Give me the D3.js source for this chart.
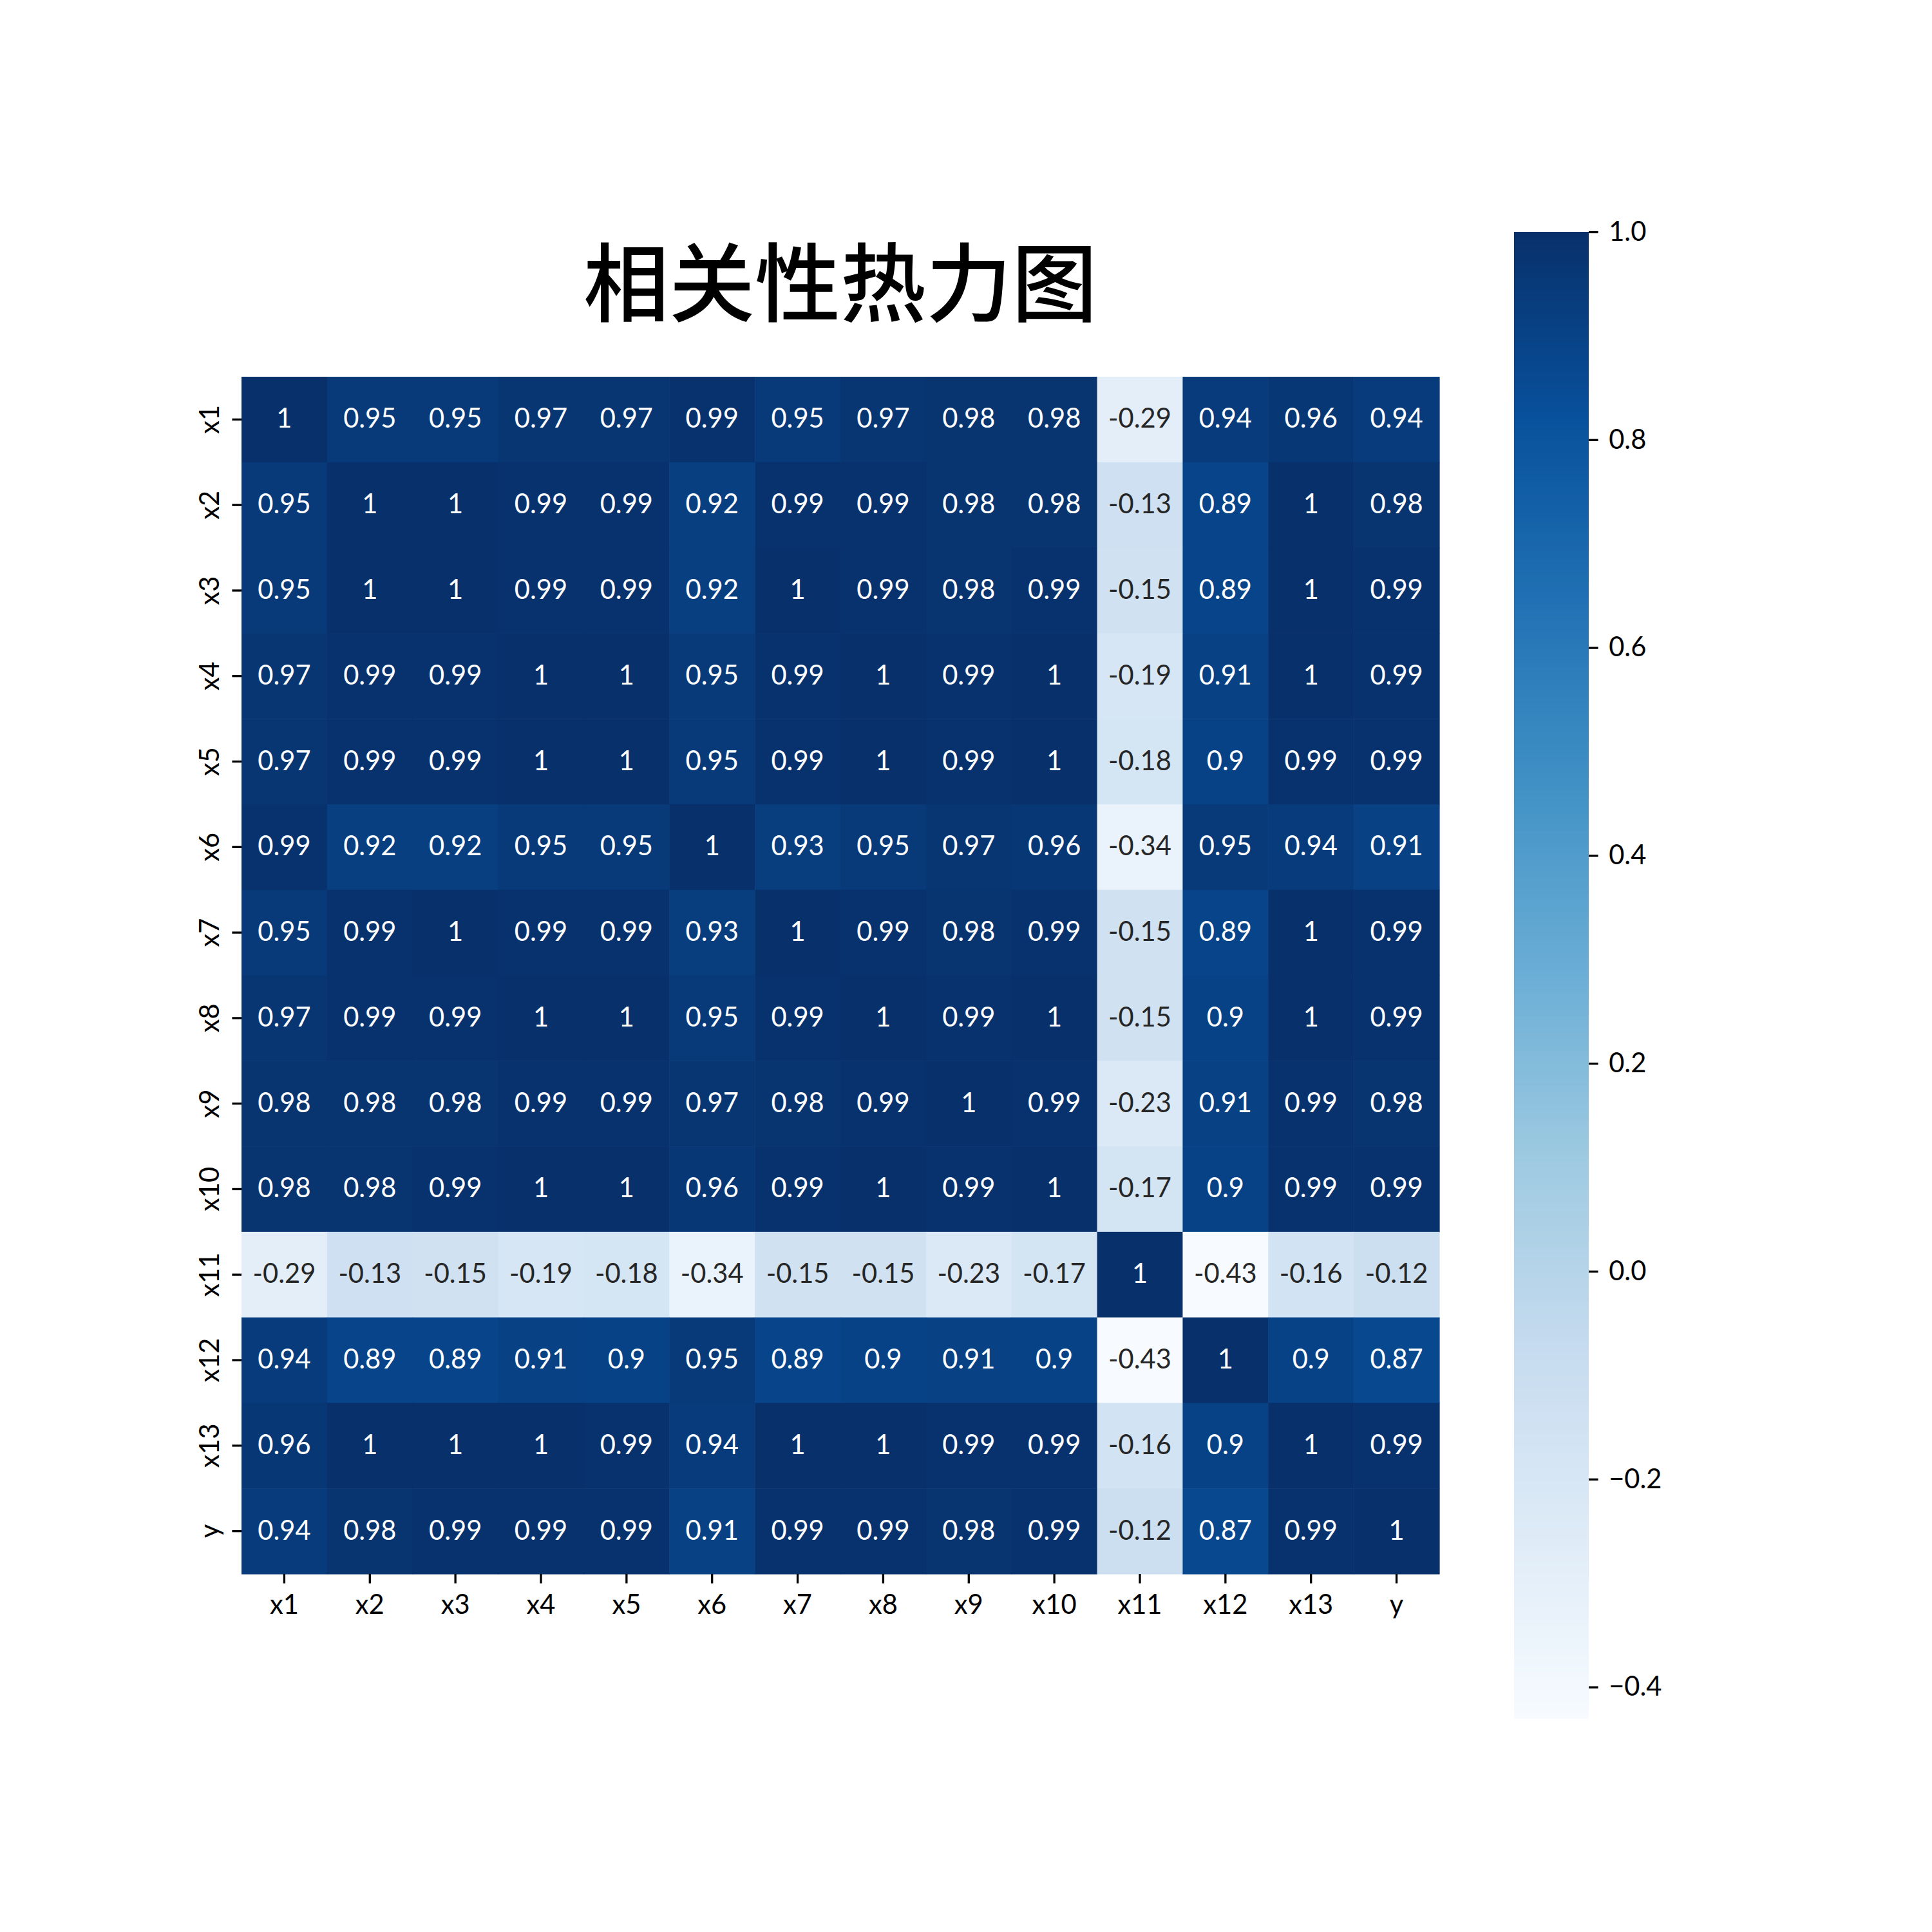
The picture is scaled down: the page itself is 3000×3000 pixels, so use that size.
<!DOCTYPE html>
<html>
<head>
<meta charset="utf-8">
<script src="https://cdn.jsdelivr.net/npm/d3@7"></script>
<style>
  html, body { margin: 0; padding: 0; background: #fff; }
</style>
</head>
<body>
<svg id="chart" width="3000" height="3000"></svg>
<script>
// ---- data ----
const labels = ["x1","x2","x3","x4","x5","x6","x7","x8","x9","x10","x11","x12","x13","y"];
const rowX1  = [1, 0.95, 0.95, 0.97, 0.97, 0.99, 0.95, 0.97, 0.98, 0.98, -0.29, 0.94, 0.96, 0.94];
const rowX2  = [0.95, 1, 1, 0.99, 0.99, 0.92, 0.99, 0.99, 0.98, 0.98, -0.13, 0.89, 1, 0.98];
const rowX3  = [0.95, 1, 1, 0.99, 0.99, 0.92, 1, 0.99, 0.98, 0.99, -0.15, 0.89, 1, 0.99];
const rowX4  = [0.97, 0.99, 0.99, 1, 1, 0.95, 0.99, 1, 0.99, 1, -0.19, 0.91, 1, 0.99];
const rowX5  = [0.97, 0.99, 0.99, 1, 1, 0.95, 0.99, 1, 0.99, 1, -0.18, 0.9, 0.99, 0.99];
const rowX6  = [0.99, 0.92, 0.92, 0.95, 0.95, 1, 0.93, 0.95, 0.97, 0.96, -0.34, 0.95, 0.94, 0.91];
const rowX7  = [0.95, 0.99, 1, 0.99, 0.99, 0.93, 1, 0.99, 0.98, 0.99, -0.15, 0.89, 1, 0.99];
const rowX8  = [0.97, 0.99, 0.99, 1, 1, 0.95, 0.99, 1, 0.99, 1, -0.15, 0.9, 1, 0.99];
const rowX9  = [0.98, 0.98, 0.98, 0.99, 0.99, 0.97, 0.98, 0.99, 1, 0.99, -0.23, 0.91, 0.99, 0.98];
const rowX10 = [0.98, 0.98, 0.99, 1, 1, 0.96, 0.99, 1, 0.99, 1, -0.17, 0.9, 0.99, 0.99];
const rowX11 = [-0.29, -0.13, -0.15, -0.19, -0.18, -0.34, -0.15, -0.15, -0.23, -0.17, 1, -0.43, -0.16, -0.12];
const rowX12 = [0.94, 0.89, 0.89, 0.91, 0.9, 0.95, 0.89, 0.9, 0.91, 0.9, -0.43, 1, 0.9, 0.87];
const rowX13 = [0.96, 1, 1, 1, 0.99, 0.94, 1, 1, 0.99, 0.99, -0.16, 0.9, 1, 0.99];
const rowY   = [0.94, 0.98, 0.99, 0.99, 0.99, 0.91, 0.99, 0.99, 0.98, 0.99, -0.12, 0.87, 0.99, 1];
const matrix = [rowX1,rowX2,rowX3,rowX4,rowX5,rowX6,rowX7,rowX8,rowX9,rowX10,rowX11,rowX12,rowX13,rowY];
const colorbarTicks = [1.0, 0.8, 0.6, 0.4, 0.2, 0.0, -0.2, -0.4];
const title = "相关性热力图";

// ---- layout ----
const svg = d3.select("#chart");
svg.append("rect").attr("width", 3000).attr("height", 3000).attr("fill", "#fff");

const hm = { left: 375, right: 2235, top: 585, bottom: 2444 };
const cb = { left: 2351, right: 2467, top: 360, bottom: 2668 };
const tickLen = 14.6, tickW = 3.3, pad = 14.6;
const fontFamily = "Lato, 'Open Sans', 'DejaVu Sans', sans-serif";
const fs = 41.67;

const cells = [];
matrix.forEach((row, i) => row.forEach((v, j) => cells.push({ r: labels[i], c: labels[j], v })));

const vmin = d3.min(cells, d => d.v), vmax = d3.max(cells, d => d.v);

// matplotlib "Blues"
const bluesStops = ["#f7fbff","#deebf7","#c6dbef","#9ecae1","#6baed6","#4292c6","#2171b5","#08519c","#08306b"];
const tScale = d3.scaleLinear().domain([vmin, vmax]).range([0, 1]).clamp(true);
const blues = d3.scaleLinear().domain(d3.range(9).map(i => i / 8)).range(bluesStops).interpolate(d3.interpolateRgb);
const color = v => blues(tScale(v));

function luminance(c) {
  const rgb = d3.rgb(c);
  const lin = x => { x /= 255; return x <= 0.03928 ? x / 12.92 : Math.pow((x + 0.055) / 1.055, 2.4); };
  return 0.2126 * lin(rgb.r) + 0.7152 * lin(rgb.g) + 0.0722 * lin(rgb.b);
}

const x = d3.scaleBand().domain(labels).range([hm.left, hm.right]).padding(0);
const y = d3.scaleBand().domain(labels).range([hm.top, hm.bottom]).padding(0);

// cells
svg.append("g").selectAll("rect").data(cells).join("rect")
  .attr("x", d => x(d.c)).attr("y", d => y(d.r))
  .attr("width", x.bandwidth() + 0.6).attr("height", y.bandwidth() + 0.6)
  .attr("fill", d => color(d.v));

// annotations
svg.append("g").selectAll("text").data(cells).join("text")
  .attr("x", d => x(d.c) + x.bandwidth() / 2)
  .attr("y", d => y(d.r) + y.bandwidth() / 2 - 3)
  .attr("text-anchor", "middle").attr("dominant-baseline", "central")
  .attr("font-family", fontFamily).attr("font-size", fs)
  .attr("fill", d => luminance(color(d.v)) > 0.408 ? "#262626" : "#ffffff")
  .text(d => String(d.v));

// x axis
const xAxis = d3.axisBottom(x).tickSize(tickLen).tickPadding(pad + 3);
const gx = svg.append("g").attr("transform", `translate(0,${hm.bottom})`).call(xAxis);
gx.select(".domain").remove();
gx.selectAll(".tick line").attr("stroke", "#000").attr("stroke-width", tickW);
gx.selectAll(".tick text").attr("font-family", fontFamily).attr("font-size", fs).attr("fill", "#000")
  .attr("dy", "0.71em");

// y axis (rotated labels)
const yAxis = d3.axisLeft(y).tickSize(tickLen).tickPadding(pad);
const gy = svg.append("g").attr("transform", `translate(${hm.left},0)`).call(yAxis);
gy.select(".domain").remove();
gy.selectAll(".tick line").attr("stroke", "#000").attr("stroke-width", tickW);
gy.selectAll(".tick text")
  .attr("font-family", fontFamily).attr("font-size", fs).attr("fill", "#000")
  .attr("x", null).attr("dy", null)
  .attr("text-anchor", "middle")
  .attr("transform", `translate(${-(tickLen + pad + 6)},0) rotate(-90)`);

// colorbar
const cbScale = d3.scaleLinear().domain([vmin, vmax]).range([cb.bottom, cb.top]);
const nSteps = 256;
const steps = d3.range(nSteps).map(i => vmin + (vmax - vmin) * i / nSteps);
const stepH = (vmax - vmin) / nSteps;
svg.append("g").selectAll("rect").data(steps).join("rect")
  .attr("x", cb.left).attr("width", cb.right - cb.left)
  .attr("y", d => cbScale(d + stepH))
  .attr("height", d => cbScale(d) - cbScale(d + stepH) + 0.8)
  .attr("fill", d => color(d + stepH / 2));

const cbAxis = d3.axisRight(cbScale).tickValues(colorbarTicks).tickSize(tickLen).tickPadding(pad + 2)
  .tickFormat(d => d3.format(".1f")(d).replace("-", "\u2212"));
const gcb = svg.append("g").attr("transform", `translate(${cb.right},0)`).call(cbAxis);
gcb.select(".domain").remove();
gcb.selectAll(".tick line").attr("stroke", "#000").attr("stroke-width", tickW);
gcb.selectAll(".tick text").attr("font-family", fontFamily).attr("font-size", fs).attr("fill", "#000");

// title
svg.append("text")
  .attr("x", (hm.left + hm.right) / 2).attr("y", 489)
  .attr("text-anchor", "middle")
  .attr("font-family", "'Noto Sans CJK SC', sans-serif")
  .attr("font-weight", 500)
  .attr("font-size", 133)
  .attr("fill", "#000")
  .text(title);
</script>
</body>
</html>
